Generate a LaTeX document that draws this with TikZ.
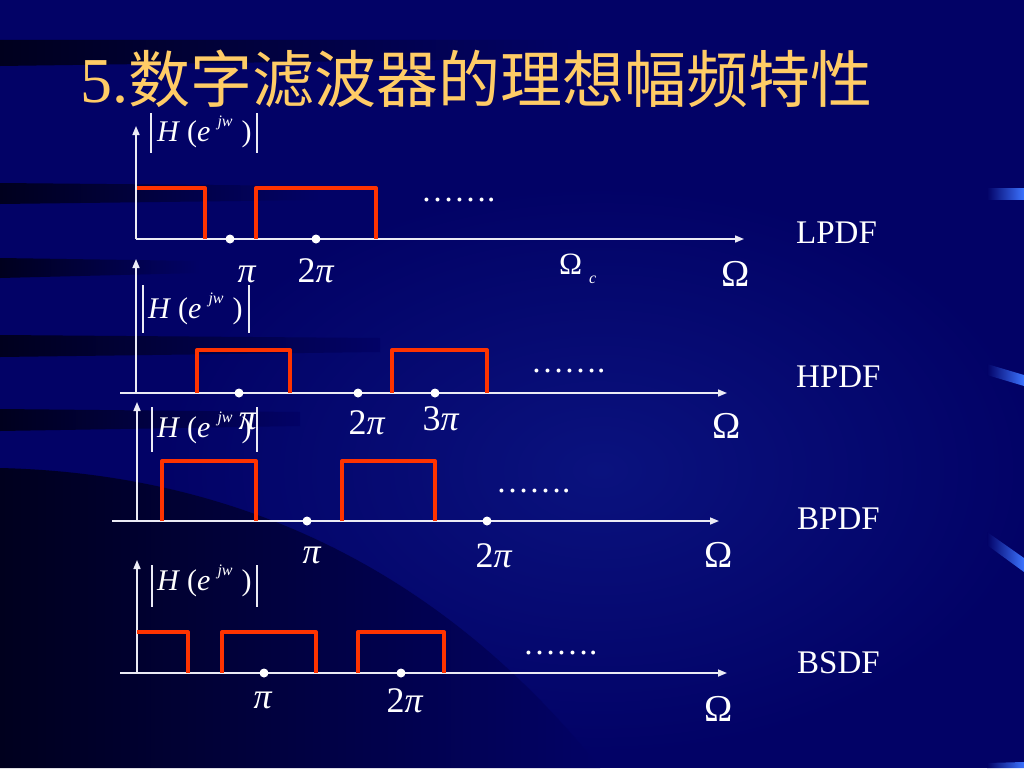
\documentclass[tikz,border=0pt]{standalone}
\usepackage{fontspec}
\setmainfont{Liberation Serif}
\newfontfamily\cjk{Noto Sans CJK SC}
\newfontfamily\titleserif{Liberation Serif}
\usetikzlibrary{arrows.meta}
\definecolor{bg}{RGB}{2,2,102}
\definecolor{band}{RGB}{0,0,30}
\definecolor{glow}{RGB}{10,18,126}
\definecolor{hilite}{RGB}{60,115,255}
\definecolor{titlecol}{RGB}{255,204,102}
\definecolor{redline}{RGB}{255,51,0}
\definecolor{axiscol}{RGB}{235,235,245}
\newcommand{\Hjw}{\textit{H}\hspace{7pt}(\textit{e}\hspace{7pt}\raisebox{15pt}{\fontsize{16}{16}\selectfont\textit{jw}}\hspace{9pt})}
\begin{document}
\begin{tikzpicture}[x=1pt,y=-1pt,
  axis/.style={draw=axiscol,line width=1.6pt,-{Triangle[length=9pt,width=7pt]}},
  wave/.style={draw=redline,line width=4pt,line join=round},
  pdot/.style={circle,fill=white,inner sep=0pt,minimum size=9pt},
  lab/.style={text=white,inner sep=0pt,font=\fontsize{36}{36}\selectfont},
  omega/.style={text=white,inner sep=0pt,font=\fontsize{38}{38}\selectfont},
  fname/.style={text=white,inner sep=0pt,font=\fontsize{33}{33}\selectfont,anchor=base west},
  dots/.style={text=white,inner sep=0pt,font=\fontsize{33}{33}\selectfont,anchor=base west},
  hlab/.style={text=white,inner sep=0pt,font=\fontsize{30}{30}\selectfont,anchor=base west},
  bar/.style={draw=axiscol,line width=1.2pt},
  darkband/.style={left color=band,right color=bg},
  hibar/.style={left color=bg,right color=hilite}
]
% background
\useasboundingbox (0,0) rectangle (1024,768);
\fill[bg] (0,0) rectangle (1024,768);
\begin{scope}
\clip (0,0) rectangle (1024,768);
\shade[inner color=glow,outer color=bg] (600,470) ellipse (440 and 285);
\shade[darkband] (0,40) -- (580,40) -- (580,58) -- (0,66) -- cycle;
\shade[darkband] (0,183) -- (320,186) -- (320,200) -- (0,204) -- cycle;
\shade[darkband] (0,258) -- (200,261) -- (200,273) -- (0,278) -- cycle;
\shade[darkband] (0,335) -- (380,338) -- (380,352) -- (0,357) -- cycle;
\shade[darkband] (0,409) -- (300,412) -- (300,426) -- (0,431) -- cycle;
\shade[darkband] (0,468) .. controls (250,474) and (450,580) .. (600,768) -- (0,768) -- cycle;
\shade[hibar] (987,188) -- (1024,188) -- (1024,199) -- (987,199) -- cycle;
\shade[hibar] (987,364) -- (1024,375) -- (1024,386) -- (987,375) -- cycle;
\shade[hibar] (987,532) -- (1024,558) -- (1024,572) -- (987,545) -- cycle;
\shade[hibar] (987,763) -- (1024,762) -- (1024,768) -- (987,768) -- cycle;
\end{scope}

% title
\node[anchor=base west,text=titlecol,inner sep=0pt] (title) at (80,102)
  {{\titleserif\fontsize{64}{64}\selectfont 5.}{\cjk\fontsize{62}{62}\selectfont 数字滤波器的理想幅频特性}};

% ---------- panel 1: LPDF ----------
\coordinate (o1) at (136,239);
\coordinate (y1) at (136,126);
\coordinate (x1) at (744,239);
\draw[axis] (o1) -- (y1);
\draw[axis] (o1) -- (x1);
\draw[wave] (137,188) -| (205,239);
\draw[wave] (256,239) |- (376,188) -- (376,239);
\node[pdot] (d1a) at (230,239) {};
\node[pdot] (d1b) at (316,239) {};
\node[hlab] (h1) at (157,141) {\Hjw};
\draw[bar] (151,113) -- (151,153);
\draw[bar] (257,113) -- (257,153);
\node[lab,anchor=base] (pi1) at (247,282) {\textit{π}};
\node[lab,anchor=base] (tpi1) at (316,282) {2\textit{π}};
\node[dots] (dots1) at (421,201) {…….};
\node[anchor=base west,text=white,inner sep=0pt,font=\fontsize{31}{31}\selectfont] (omc) at (559,274) {Ω};
\node[anchor=base west,text=white,inner sep=0pt,font=\fontsize{16}{16}\selectfont] (omcs) at (589,283) {\textit{c}};
\node[omega,anchor=base] (om1) at (736,286) {Ω};
\node[fname] (lpdf) at (796,243) {LPDF};

% ---------- panel 2: HPDF ----------
\coordinate (o2) at (136,393);
\coordinate (y2) at (136,259);
\coordinate (l2) at (120,393);
\coordinate (x2) at (727,393);
\draw[axis] (o2) -- (y2);
\draw[axis] (l2) -- (x2);
\draw[wave] (197,393) |- (290,350) -- (290,393);
\draw[wave] (392,393) |- (487,350) -- (487,393);
\node[pdot] (d2a) at (239,393) {};
\node[pdot] (d2b) at (358,393) {};
\node[pdot] (d2c) at (435,393) {};
\node[hlab] (h2) at (148,318) {\Hjw};
\draw[bar] (143,285) -- (143,333);
\draw[bar] (249,285) -- (249,333);
\node[lab,anchor=base] (pi2) at (248,429) {\textit{π}};
\node[lab,anchor=base] (tpi2) at (367,434) {2\textit{π}};
\node[lab,anchor=base] (thpi2) at (441,430) {3\textit{π}};
\node[dots] (dots2) at (531,372) {…….};
\node[omega,anchor=base] (om2) at (727,438) {Ω};
\node[fname] (hpdf) at (796,387) {HPDF};

% ---------- panel 3: BPDF ----------
\coordinate (o3) at (137,521);
\coordinate (y3) at (137,402);
\coordinate (l3) at (112,521);
\coordinate (x3) at (719,521);
\draw[axis] (o3) -- (y3);
\draw[axis] (l3) -- (x3);
\draw[wave] (162,521) |- (256,461) -- (256,521);
\draw[wave] (342,521) |- (435,461) -- (435,521);
\node[pdot] (d3a) at (307,521) {};
\node[pdot] (d3b) at (487,521) {};
\node[hlab] (h3) at (157,437) {\Hjw};
\draw[bar] (152,407) -- (152,452);
\draw[bar] (257,407) -- (257,452);
\node[lab,anchor=base] (pi3) at (312,563) {\textit{π}};
\node[lab,anchor=base] (tpi3) at (494,567) {2\textit{π}};
\node[dots] (dots3) at (496,492) {…….};
\node[omega,anchor=base] (om3) at (719,567) {Ω};
\node[fname] (bpdf) at (797,529) {BPDF};

% ---------- panel 4: BSDF ----------
\coordinate (o4) at (137,673);
\coordinate (y4) at (137,560);
\coordinate (l4) at (120,673);
\coordinate (x4) at (727,673);
\draw[axis] (o4) -- (y4);
\draw[axis] (l4) -- (x4);
\draw[wave] (137,632) -| (188,673);
\draw[wave] (222,673) |- (316,632) -- (316,673);
\draw[wave] (358,673) |- (444,632) -- (444,673);
\node[pdot] (d4a) at (264,673) {};
\node[pdot] (d4b) at (401,673) {};
\node[hlab] (h4) at (157,590) {\Hjw};
\draw[bar] (152,565) -- (152,607);
\draw[bar] (257,565) -- (257,607);
\node[lab,anchor=base] (pi4) at (263,708) {\textit{π}};
\node[lab,anchor=base] (tpi4) at (405,712) {2\textit{π}};
\node[dots] (dots4) at (523,654) {…….};
\node[omega,anchor=base] (om4) at (719,721) {Ω};
\node[fname] (bsdf) at (797,673) {BSDF};
\end{tikzpicture}
\end{document}
